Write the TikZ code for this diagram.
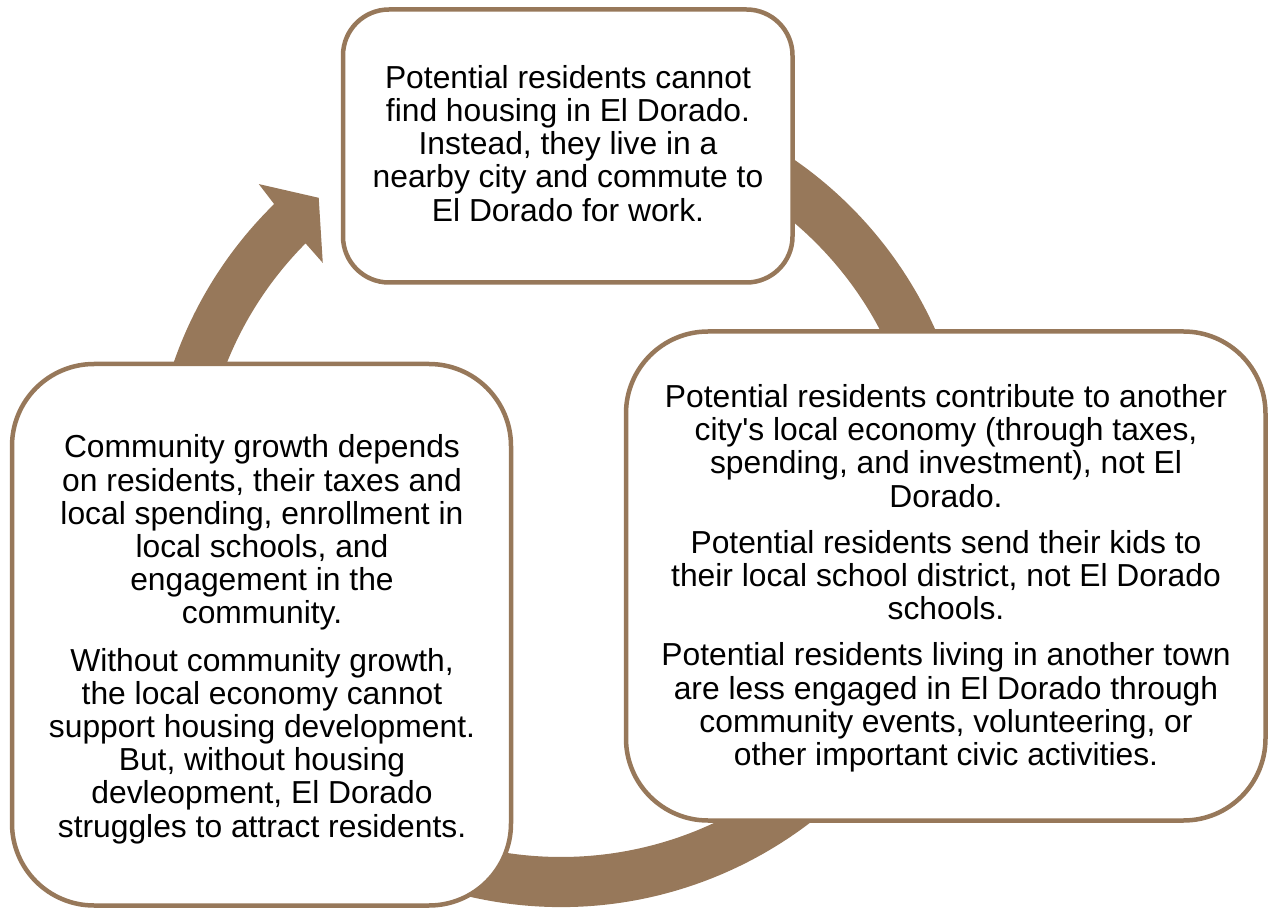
\documentclass[tikz,border=0pt]{standalone}
\usepackage{fontspec}
\setmainfont{Liberation Sans}
\usetikzlibrary{calc}
\definecolor{brownc}{RGB}{151,120,90}
\tikzset{
  box/.style={draw=brownc, line width=4.5pt, fill=white, rectangle, inner sep=0pt},
  txt/.style={align=center, inner sep=0pt, text=black,
    font=\fontsize{31.8pt}{33.2pt}\selectfont},
  cyclearrow/.style={fill=brownc}
}
\begin{document}
\begin{tikzpicture}
\useasboundingbox (0,0) rectangle (1270pt,-909pt);
\coordinate (C) at (561pt,-497pt);
% circular arrow
\fill[cyclearrow] ($(C)+(75:410pt)$) arc[start angle=75, end angle=-225.6, radius=410pt]
  -- ($(C)+(134:435pt)$) -- ($(C)+(129:385pt)$) -- ($(C)+(135.5:334pt)$)
  -- ($(C)+(135.2:360pt)$) arc[start angle=-224.8, end angle=75, radius=360pt] -- cycle;
% boxes
\node[box, rounded corners=46pt, minimum width=449.5pt, minimum height=273pt]
  (topbox) at (567.75pt,-146pt) {};
\node[box, rounded corners=82pt, minimum width=499pt, minimum height=541.5pt]
  (leftbox) at (261.5pt,-634.75pt) {};
\node[box, rounded corners=82pt, minimum width=639.5pt, minimum height=489pt]
  (rightbox) at (945.75pt,-576pt) {};
% texts
\node[txt] (toptxt) at (568pt,-148pt) {\strut Potential residents cannot\\
find housing in El Dorado.\\
Instead, they live in a\\
nearby city and commute to\\
El Dorado for work.\strut};
\node[txt] (lefttxt) at (262pt,-640.9pt) {\strut Community growth depends\\
on residents, their taxes and\\
local spending, enrollment in\\
local schools, and\\
engagement in the\\
community.\\[14pt]
Without community growth,\\
the local economy cannot\\
support housing development.\\
But, without housing\\
devleopment, El Dorado\\
struggles to attract residents.\strut};
\node[txt] (righttxt) at (946pt,-579.9pt) {\strut Potential residents contribute to another\\
city\textquotesingle s local economy (through taxes,\\
spending, and investment), not El\\
Dorado.\\[13pt]
Potential residents send their kids to\\
their local school district, not El Dorado\\
schools.\\[13pt]
Potential residents living in another town\\
are less engaged in El Dorado through\\
community events, volunteering, or\\
other important civic activities.\strut};
\end{tikzpicture}
\end{document}
